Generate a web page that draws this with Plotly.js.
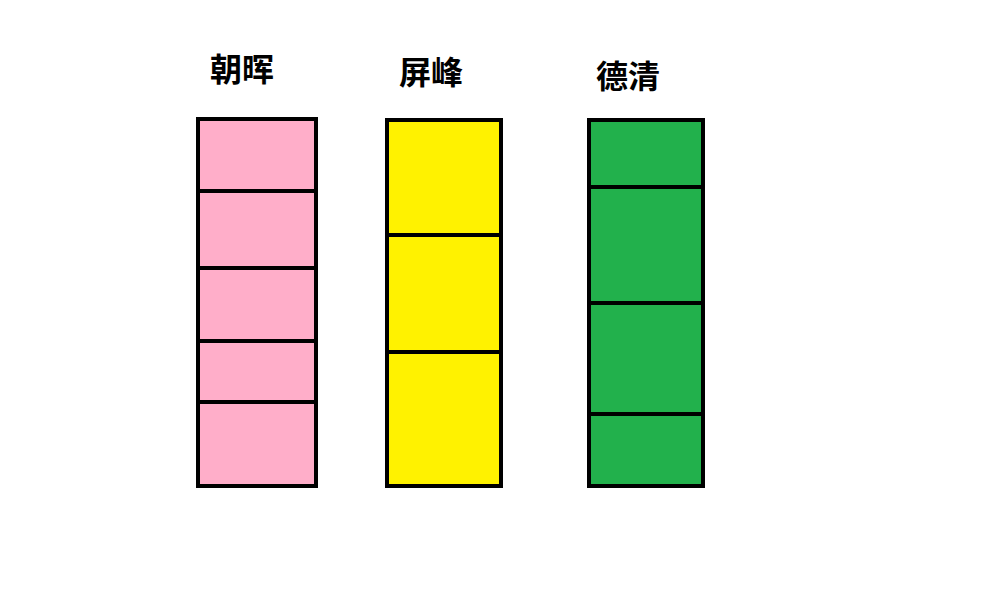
<!DOCTYPE html>
<html>
<head>
<meta charset="utf-8">
<script src="https://cdn.plot.ly/plotly-3.0.1.min.js"></script>
<style>html,body{margin:0;padding:0;background:#fff;}#chart{width:1000px;height:600px;}</style>
</head>
<body>
<div id="chart"></div>
<script>
// Column names (campuses)
const categories = ["朝晖", "屏峰", "德清"];
// Segment heights per column, listed bottom to top
const zhaohuiSegments = [84, 61, 73, 77, 72];
const pingfengSegments = [134, 117, 115];
const deqingSegments = [72, 111, 116, 67];
// Fill colour per column
const columnColors = ["#FFAEC9", "#FFF200", "#22B14C"];

const columns = [zhaohuiSegments, pingfengSegments, deqingSegments];
const maxSegments = Math.max(...columns.map(c => c.length));

// layout tweaks: bar widths and small horizontal nudges (in category units)
const barWidths = [0.607, 0.59, 0.59];
const barShifts = [0.013, -0.026, 0.013];
const barOffsets = barWidths.map((w, i) => barShifts[i] - w / 2);

const traces = [];
for (let k = 0; k < maxSegments; k++) {
  traces.push({
    type: "bar",
    x: categories,
    y: columns.map(c => (k < c.length ? c[k] : null)),
    width: barWidths,
    offset: barOffsets,
    marker: { color: columnColors, line: { color: "#000000", width: 4 } },
    hoverinfo: "skip",
    showlegend: false
  });
}

const labelX = [0.242, 0.431, 0.6275];
const labelY = [0.888, 0.884, 0.876];
const annotations = categories.map((c, i) => ({
  text: "<b>" + c + "</b>",
  xref: "paper", yref: "paper",
  x: labelX[i], y: labelY[i],
  xanchor: "center", yanchor: "middle",
  showarrow: false,
  font: { family: "Noto Sans CJK SC", size: 32, color: "#000000" }
}));

const layout = {
  width: 1000, height: 600,
  margin: { l: 0, r: 0, t: 0, b: 0 },
  paper_bgcolor: "#ffffff", plot_bgcolor: "#ffffff",
  barmode: "stack",
  xaxis: { type: "category", range: [-1.3085, 3.833], showgrid: false, zeroline: false, showticklabels: false, showline: false, ticks: "" },
  yaxis: { range: [-114, 486], showgrid: false, zeroline: false, showticklabels: false, showline: false, ticks: "" },
  annotations: annotations,
  showlegend: false
};

Plotly.newPlot("chart", traces, layout, { staticPlot: true, displayModeBar: false });
</script>
</body>
</html>
